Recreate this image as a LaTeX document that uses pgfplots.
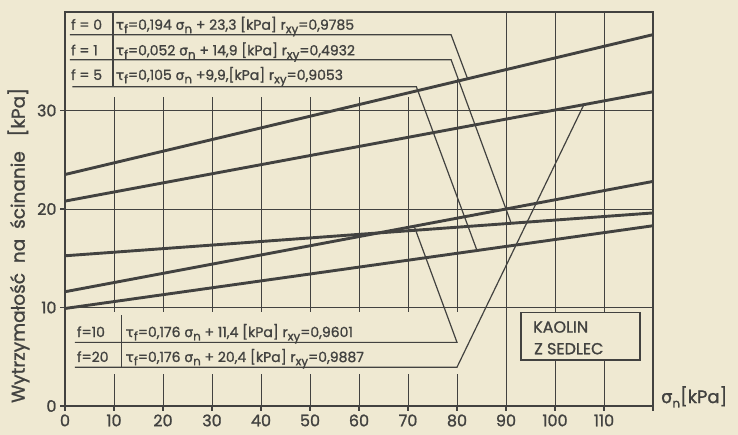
\documentclass[border=0pt]{standalone}
\usepackage{pgfplots}
\pgfplotsset{compat=1.18}
\usepackage{fontspec}
\setmainfont{Poppins}[FakeBold=1.2]
\newfontfamily\gr{DejaVu Sans}[FakeBold=1.2]
\definecolor{bg}{RGB}{239,233,210}
\definecolor{ink}{RGB}{66,66,64}
\newcommand\sub[1]{\raisebox{-0.45ex}{\fontsize{12}{12}\selectfont #1}}
\newcommand\tf{{\gr τ}\sub{f}}
\newcommand\sn{{\gr σ}\sub{n}}
\newcommand\rxy{r\sub{xy}}
\begin{document}
\begin{tikzpicture}
\fill[bg] (0,0) rectangle (738pt,435pt);
\begin{axis}[
  at={(65pt,29pt)}, anchor=south west,
  scale only axis, width=588pt, height=394pt,
  xmin=0, xmax=120, ymin=0, ymax=40,
  xtick={0,10,...,110}, ytick={0,10,20,30},
  extra x ticks={120}, extra x tick labels={},
  grid=major, grid style={ink, line width=0.9pt},
  axis line style={ink, line width=1.4pt},
  tick style={ink, line width=1.2pt},
  tick align=outside, major tick length=5pt,
  tick pos=left,
  ticklabel style={font=\fontsize{16}{16}\selectfont, text=ink},
  /pgf/number format/assume math mode=true,
  clip=false,
]
% covers for the tables
\fill[bg] (axis cs:0.25,31.4) rectangle (axis cs:75,39.85);
\fill[bg] (axis cs:75,33.2) rectangle (axis cs:85,39.85);
\fill[bg] (axis cs:0.25,3.2) rectangle (axis cs:82,9.5);
\draw[ink, line width=1.6pt, fill=bg] (axis cs:93,4.65) rectangle (axis cs:117.3,9.5);
% shear strength lines
\addplot[ink, line width=2.9pt] coordinates {(0,23.5) (120,37.7)};
\addplot[ink, line width=2.9pt] coordinates {(0,20.8) (120,31.9)};
\addplot[ink, line width=2.9pt] coordinates {(0,15.25) (120,19.6)};
\addplot[ink, line width=2.9pt] coordinates {(0,11.6) (120,22.8)};
\addplot[ink, line width=2.9pt] coordinates {(0,9.9) (120,18.3)};
% tables
\begin{scope}[ink, line width=1.2pt]
\draw (axis cs:1,37.68) -- (axis cs:78.8,37.68) -- (axis cs:82.1,33.3);
\draw (axis cs:1,35.15) -- (axis cs:78.8,35.15) -- (axis cs:91.1,18.5);
\draw (axis cs:1.5,32.42) -- (axis cs:71.7,32.42) -- (axis cs:84.1,15.76);
\draw (axis cs:9.8,39.9) -- (axis cs:9.8,32.42);
\draw (axis cs:2,6.46) -- (axis cs:80,6.46) -- (axis cs:71.3,18.2);
\draw (axis cs:2,3.94) -- (axis cs:80,3.94) -- (axis cs:105.9,30.6);
\draw (axis cs:11.6,9.2) -- (axis cs:11.6,3.94);
\end{scope}
\begin{scope}[every node/.style={text=ink, inner sep=0pt, anchor=base west, font=\fontsize{14}{14}\selectfont}]
\node at (axis cs:1.2,38.2) {f = 0};
\node at (axis cs:1.2,35.6) {f = 1};
\node at (axis cs:1.2,33.1) {f = 5};
\node at (axis cs:10.3,38.2) {\tf=0,194 \sn\ + 23,3 [kPa] \rxy=0,9785};
\node at (axis cs:10.3,35.6) {\tf=0,052 \sn\ + 14,9 [kPa] \rxy=0,4932};
\node at (axis cs:10.3,33.1) {\tf=0,105 \sn\ +9,9,[kPa] \rxy=0,9053};
\node at (axis cs:2.4,7.0) {f=10};
\node at (axis cs:2.4,4.47) {f=20};
\node at (axis cs:12.3,7.0) {\tf=0,176 \sn\ + 11,4 [kPa] \rxy=0,9601};
\node at (axis cs:12.3,4.47) {\tf=0,176 \sn\ + 20,4 [kPa] \rxy=0,9887};
\node[font=\fontsize{16}{16}\selectfont] at (axis cs:95.5,7.45) {KAOLIN};
\node[font=\fontsize{16}{16}\selectfont] at (axis cs:95.7,5.25) {Z SEDLEC};
\node[font=\fontsize{18}{18}\selectfont] at (axis cs:121.6,0.3) {\sn[kPa]};
\end{scope}
\node[text=ink, rotate=90, anchor=center, font=\fontsize{18.5}{18.5}\selectfont]
  at (axis cs:-9.5,16.3) {Wytrzymałość \ na \ ścinanie \ \ [kPa]};
\end{axis}
\pgfresetboundingbox
\useasboundingbox (0,0) rectangle (738pt,435pt);
\end{tikzpicture}
\end{document}
